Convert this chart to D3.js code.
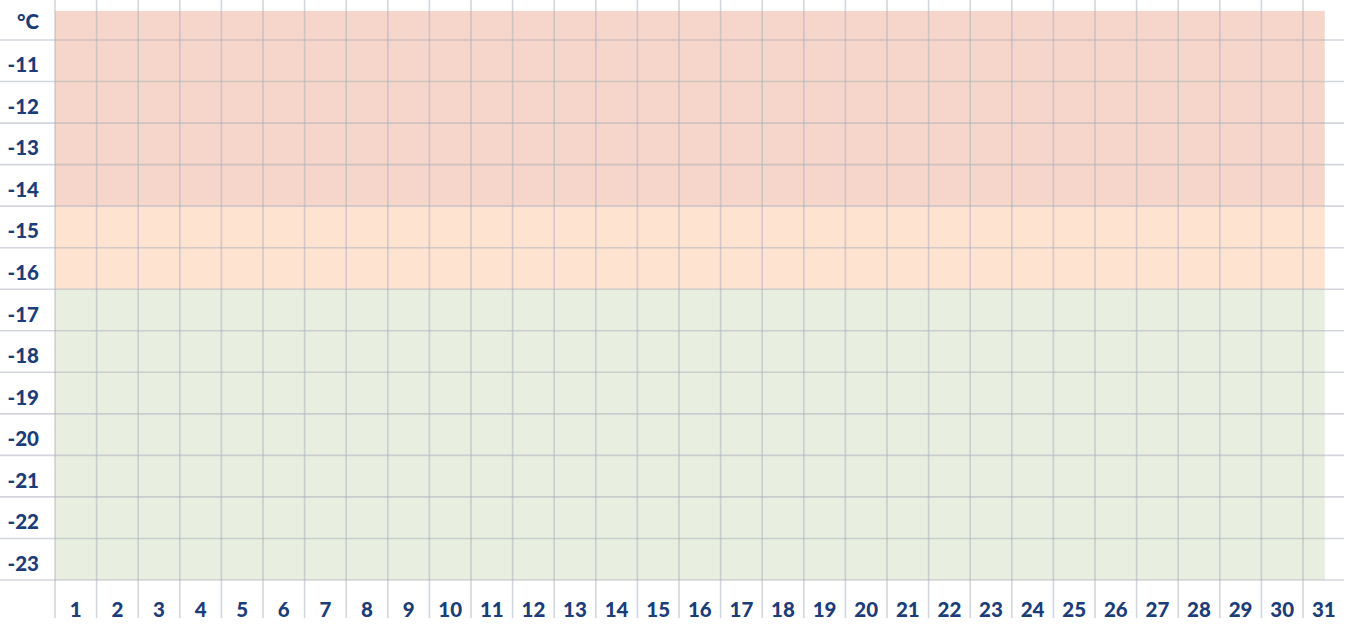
<!DOCTYPE html>
<html>
<head>
<meta charset="utf-8">
<script src="https://cdn.jsdelivr.net/npm/d3@7"></script>
<style>
  html, body { margin: 0; padding: 0; background: #fff; }
  svg { display: block; }
  .lbl { font-family: Lato, "Open Sans", sans-serif; font-weight: 900; fill: #1b3d78; font-size: 20.5px; }
</style>
</head>
<body>
<div id="chart"></div>
<script>
// Days of the month along the bottom
const days = d3.range(1, 32);
// Temperature rows (°C)
const temps = [-11, -12, -13, -14, -15, -16, -17, -18, -19, -20, -21, -22, -23];
const unitLabel = '°C';
// Coloured zones: [from, to] in °C
const zones = [
    { name: 'high', from: -9.8, to: -14.5, color: '#f6d6ca' },
    { name: 'mid', from: -14.5, to: -16.5, color: '#fee3d1' },
    { name: 'low', from: -16.5, to: -23.5, color: '#e8efe0' }
];

const width = 1348, height = 624;

const svg = d3.select('#chart').append('svg')
    .attr('width', width)
    .attr('height', height);

// scales
const x = d3.scaleLinear().domain([0.5, 31.5]).range([55, 55 + 41.6 * 31]);
const y = d3.scaleLinear().domain([-10.5, -23.5]).range([40, 580]);

// zone bands
svg.append('g').selectAll('rect')
    .data(zones)
    .join('rect')
    .attr('x', x(0.5))
    .attr('width', x(31) - x(0.5) + 1)
    .attr('y', d => y(d.from))
    .attr('height', d => y(d.to) - y(d.from))
    .attr('fill', d => d.color);

// grid
const grid = svg.append('g')
    .attr('stroke', '#a8adbc')
    .attr('stroke-opacity', 0.5)
    .attr('stroke-width', 1.6);

// vertical lines between days
grid.selectAll('line.v')
    .data(d3.range(0.5, 31, 1))
    .join('line')
    .attr('class', 'v')
    .attr('x1', d => x(d)).attr('x2', d => x(d))
    .attr('y1', 0).attr('y2', 618);

// horizontal lines between rows
grid.selectAll('line.h')
    .data(d3.range(-10.5, -24, -1))
    .join('line')
    .attr('class', 'h')
    .attr('x1', 0).attr('x2', 1344)
    .attr('y1', d => y(d)).attr('y2', d => y(d));

// y labels
svg.append('g').selectAll('text')
    .data(temps)
    .join('text')
    .attr('class', 'lbl')
    .attr('x', 39)
    .attr('y', d => y(d) + 11.5)
    .attr('text-anchor', 'end')
    .text(d => d);

svg.append('text')
    .attr('class', 'lbl')
    .attr('x', 39)
    .attr('y', y(-10) + 9.5)
    .attr('text-anchor', 'end')
    .text(unitLabel);

// x labels
svg.append('g').selectAll('text')
    .data(days)
    .join('text')
    .attr('class', 'lbl')
    .attr('x', d => x(d))
    .attr('y', 617)
    .attr('text-anchor', 'middle')
    .text(d => d);
</script>
</body>
</html>
